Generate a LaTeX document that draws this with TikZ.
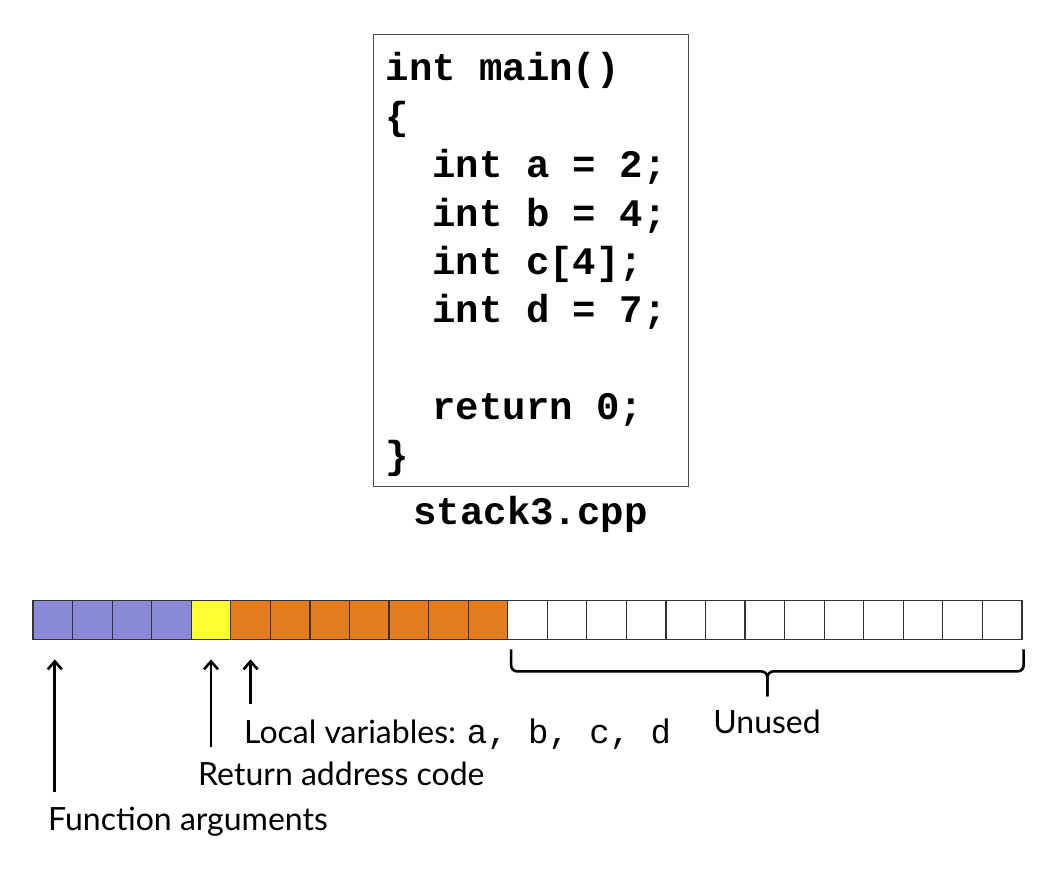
\documentclass[tikz,border=0pt]{standalone}
\usepackage{fontspec}
\setmainfont{Lato}
\newfontfamily\codefont{Liberation Mono}
\newcommand\codespacing{\spaceskip=0.6em\relax}
\usetikzlibrary{arrows.meta, calc, positioning}

\definecolor{argblue}{RGB}{138,138,214}
\definecolor{retyellow}{RGB}{255,255,51}
\definecolor{localorange}{RGB}{228,123,29}

\tikzset{
  cell/.style={draw=black!80, line width=1.2pt, minimum size=39.56pt, inner sep=0pt},
  codebox/.style={draw=black!70, line width=1pt, minimum width=315pt, minimum height=452pt, inner sep=0pt},
  listing/.style={text width=289pt, align=left, inner sep=0pt,
    font={\codefont\bfseries\fontsize{39}{48.4}\selectfont}},
  lbl/.style={font=\fontsize{32}{36}\selectfont, inner sep=0pt, anchor=base west},
  ptr/.style={-{Straight Barb[length=8pt,width=14pt]}, line width=2.6pt},
  braceline/.style={line width=2.6pt, rounded corners=6pt}
}

\begin{document}
\begin{tikzpicture}[x=1pt, y=-1pt]
  \useasboundingbox (0,0) rectangle (1056,871);

  % source listing
  \node[codebox] (code) at (530.5,260) {};
  \node[listing, anchor=north west] (src) at ([xshift=13pt, yshift=-19pt]code.north west) {\codespacing int main()\\
\{\\
\hspace*{1.2em}int a = 2;\\
\hspace*{1.2em}int b = 4;\\
\hspace*{1.2em}int c[4];\\
\hspace*{1.2em}int d = 7;\\
\mbox{}\\
\hspace*{1.2em}return 0;\\
\}};
  \node[below=10pt of code, inner sep=0pt, font=\codefont\bfseries\fontsize{39}{40}\selectfont] (fname) {stack3.cpp};

  % stack cells
  \foreach \i in {1,...,4}
    \node[cell, fill=argblue] (c\i) at ({33+39.56*(\i-0.5)},620) {};
  \node[cell, fill=retyellow] (c5) at ({33+39.56*4.5},620) {};
  \foreach \i in {6,...,12}
    \node[cell, fill=localorange] (c\i) at ({33+39.56*(\i-0.5)},620) {};
  \foreach \i in {13,...,25}
    \node[cell, fill=white] (c\i) at ({33+39.56*(\i-0.5)},620) {};

  % labels
  \node[lbl] (farg) at (48,830) {Function arguments};
  \node[lbl] (rtn) at (198,785) {Return address code};
  \node[lbl] (lvar) at (244,743) {Local variables: {\codefont\fontsize{34}{36}\selectfont a, b, c, d}};
  \node[lbl, anchor=base] (unused) at (767,733) {Unused};

  \coordinate (farg foot) at (farg.north -| c1.south);
  \coordinate (rtn foot) at (rtn.north -| c5.south);
  \coordinate (lvar foot) at (lvar.north -| c6.south);
  \draw[ptr] ([xshift=2pt, yshift=14pt]farg foot) -- ([xshift=2pt, yshift=-19pt]c1.south);
  \draw[ptr] ([yshift=14pt]rtn foot) -- ([yshift=-19pt]c5.south);
  \draw[ptr] ([yshift=14pt]lvar foot) -- ([yshift=-19pt]c6.south);

  % brace over the unused cells
  \coordinate (bl) at ([xshift=4pt, yshift=-9pt]c13.south west);
  \coordinate (br) at ([xshift=1pt, yshift=-9pt]c25.south east);
  \coordinate (bmid) at ($(bl)!0.5!(br)$);
  \draw[braceline] (bl) -- ++(0,22) -- ([yshift=-22pt]bmid) -- ++(0,25);
  \draw[braceline] (br) -- ++(0,22) -- ([yshift=-22pt]bmid) -- ++(0,25);
\end{tikzpicture}
\end{document}
